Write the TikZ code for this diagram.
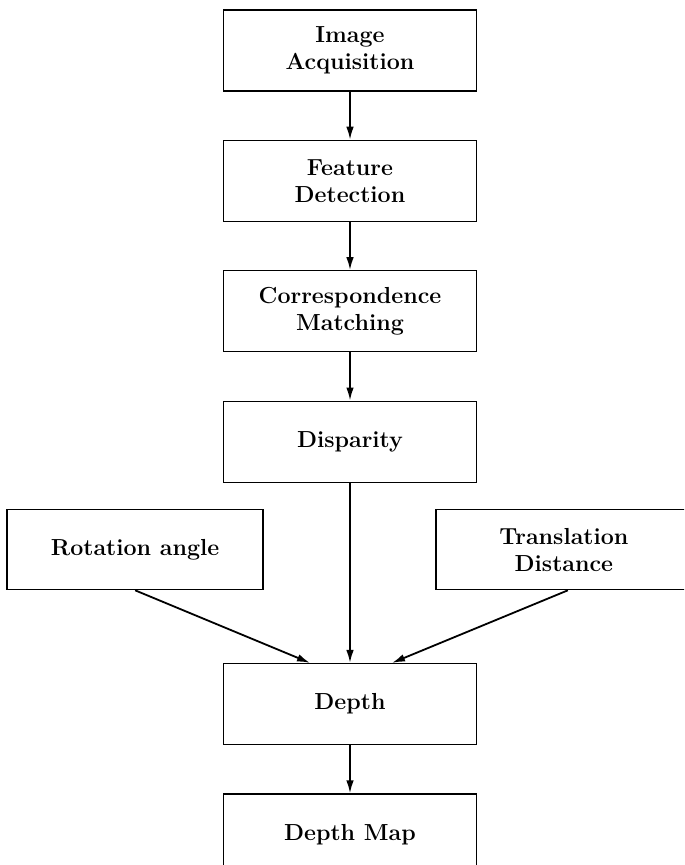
\documentclass[tikz,border=0pt]{standalone}
\usetikzlibrary{positioning,arrows.meta}
\tikzset{
	block/.style = {draw, line width=.7pt, minimum width=126.5pt, minimum height=40.5pt,
	  inner sep=0pt, align=center, font=\fontsize{11.6}{13.5}\selectfont\bfseries},
	sideblock/.style = {block, minimum width=128pt, minimum height=40pt},
	flow/.style = {line width=.9pt, -{Latex[length=6.5pt,width=3.8pt]}}
	}

\begin{document}
\begin{tikzpicture}[node distance=24pt]
\useasboundingbox (0,0) rectangle (342pt,-432.5pt);
\clip (0,0) rectangle (342pt,-432.5pt);

% NODES

% main chain
\node (imgacq) [block] at (175pt,-25.25pt) {Image\\Acquisition};
\node (featdet) [block,below=of imgacq] {Feature\\Detection};
\node (corresp) [block,below=of featdet] {Correspondence\\Matching};
\node (disparity) [block,below=of corresp] {Disparity};

% side inputs
\node (rotation) [sideblock,below left=13pt and -20.5pt of disparity] {Rotation angle};
\node (translation) [sideblock,below right=13pt and -21pt of disparity] {Translation\\Distance};

% depth, out
\node (depth) [block,below=90pt of disparity] {Depth};
\node (depthmap) [block,below=of depth] {Depth Map};


%CONNECTIONS
\draw [flow] (imgacq) -- (featdet);
\draw [flow] (featdet) -- (corresp);
\draw [flow] (corresp) -- (disparity);
\draw [flow] (disparity) -- (depth);
\draw [flow] (rotation.south) -- ([xshift=-20pt]depth.north);
\draw [flow] ([xshift=2pt]translation.south) -- ([xshift=21pt]depth.north);
\draw [flow] (depth) -- (depthmap);

\end{tikzpicture}
\end{document}
